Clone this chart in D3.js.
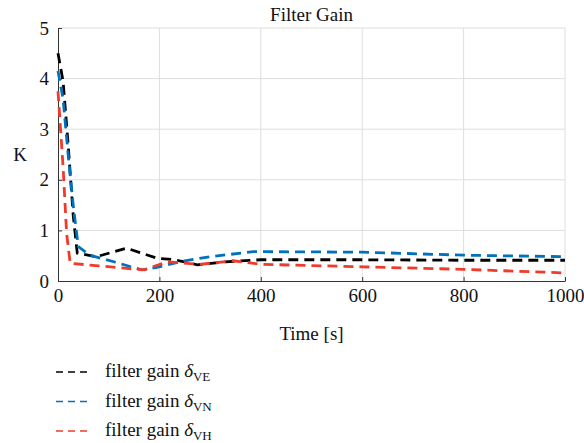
<!DOCTYPE html>
<html>
<head>
<meta charset="utf-8">
<script src="https://cdn.jsdelivr.net/npm/d3@7"></script>
<style>
  body { margin: 0; background: #fff; }
</style>
</head>
<body>
<div id="chart"></div>
<script>
// time samples [s] and gains
const timeVE = [0, 10, 20, 30, 38, 76, 135, 195, 230, 275, 330, 400, 600, 800, 1000];
const gainVE = [4.5, 3.95, 2.7, 1.3, 0.55, 0.48, 0.65, 0.45, 0.42, 0.32, 0.38, 0.42, 0.42, 0.41, 0.41];

const timeVN = [0, 10, 20, 30, 40, 63, 110, 165, 195, 250, 300, 385, 600, 800, 1000];
const gainVN = [4.15, 3.6, 2.5, 1.5, 0.68, 0.51, 0.38, 0.22, 0.27, 0.4, 0.48, 0.58, 0.57, 0.51, 0.48];

const timeVH = [0, 10, 17, 24, 80, 170, 215, 280, 345, 400, 600, 800, 1000];
const gainVH = [3.75, 2.26, 0.94, 0.35, 0.3, 0.22, 0.38, 0.33, 0.4, 0.33, 0.28, 0.23, 0.16];

const xTicks = [0, 200, 400, 600, 800, 1000];
const yTicks = [0, 1, 2, 3, 4, 5];

const series = [
    {name: "VE", color: "#000000", values: timeVE.map((t, i) => ({t: t, v: gainVE[i]}))},
    {name: "VN", color: "#0072bd", values: timeVN.map((t, i) => ({t: t, v: gainVN[i]}))},
    {name: "VH", color: "#ee3b2b", values: timeVH.map((t, i) => ({t: t, v: gainVH[i]}))}
];

const serif = "'Liberation Serif', serif";
const width = 584, height = 443;
const margin = {top: 28, left: 58, bottom: 162, right: 19};
const plotW = width - margin.left - margin.right;
const plotH = height - margin.top - margin.bottom;

const svg = d3.select("#chart").append("svg")
    .attr("width", width)
    .attr("height", height);

const g = svg.append("g")
    .attr("transform", "translate(" + margin.left + "," + margin.top + ")");

const x = d3.scaleLinear().domain([0, 1000]).range([0, plotW]);
const y = d3.scaleLinear().domain([0, 5]).range([plotH, 0]);

// grid
g.append("g").selectAll("line").data(xTicks.slice(1)).join("line")
    .attr("x1", d => x(d)).attr("x2", d => x(d))
    .attr("y1", 0).attr("y2", plotH)
    .attr("stroke", "#dedede").attr("stroke-width", 1);
g.append("g").selectAll("line").data(yTicks.slice(1)).join("line")
    .attr("x1", 0).attr("x2", plotW)
    .attr("y1", d => y(d)).attr("y2", d => y(d))
    .attr("stroke", "#dedede").attr("stroke-width", 1);

// axes
const xAxis = g.append("g")
    .attr("transform", "translate(0," + plotH + ")")
    .call(d3.axisBottom(x).tickValues(xTicks).tickFormat(d3.format("d"))
        .tickSizeInner(-4).tickSizeOuter(0).tickPadding(8));
const yAxis = g.append("g")
    .call(d3.axisLeft(y).tickValues(yTicks).tickFormat(d3.format("d"))
        .tickSizeInner(-4).tickSizeOuter(0).tickPadding(9));

[xAxis, yAxis].forEach(a => {
    a.attr("font-family", serif).attr("font-size", 19);
    a.selectAll("path.domain").attr("stroke", "#333");
    a.selectAll(".tick line").attr("stroke", "#333");
    a.selectAll(".tick text")
        .style("font-family", serif)
        .style("font-size", "19px")
        .attr("fill", "#111");
});

// lines
const line = d3.line()
    .x(d => x(d.t))
    .y(d => y(d.v));

g.append("g").selectAll("path").data(series).join("path")
    .attr("d", d => line(d.values))
    .attr("fill", "none")
    .attr("stroke", d => d.color)
    .attr("stroke-width", 2.8)
    .attr("stroke-dasharray", "10,6");

// titles
function label(px, py, str) {
    return svg.append("text")
        .attr("x", px).attr("y", py)
        .attr("text-anchor", "middle")
        .style("font-family", serif)
        .style("font-size", "19px")
        .attr("fill", "#111")
        .text(str);
}
label(margin.left + plotW / 2, 21, "Filter Gain");
label(margin.left + plotW / 2, 340, "Time [s]");
label(20, 161, "K");

// legend
const legend = svg.append("g").selectAll("g").data(series).join("g")
    .attr("transform", (d, i) => "translate(56," + (372 + i * 29.5) + ")");

legend.append("line")
    .attr("x1", 0).attr("x2", 36)
    .attr("y1", 0).attr("y2", 0)
    .attr("stroke", d => d.color)
    .attr("stroke-width", 1.5)
    .attr("stroke-dasharray", "7,5");

const lt = legend.append("text")
    .attr("x", 49).attr("y", 5)
    .style("font-family", serif)
    .style("font-size", "19px")
    .attr("fill", "#111");
lt.append("tspan").text("filter gain ");
lt.append("tspan").attr("font-style", "italic").text("δ");
lt.append("tspan").style("font-size", "13px").attr("dy", 4).text(d => d.name);
</script>
</body>
</html>
